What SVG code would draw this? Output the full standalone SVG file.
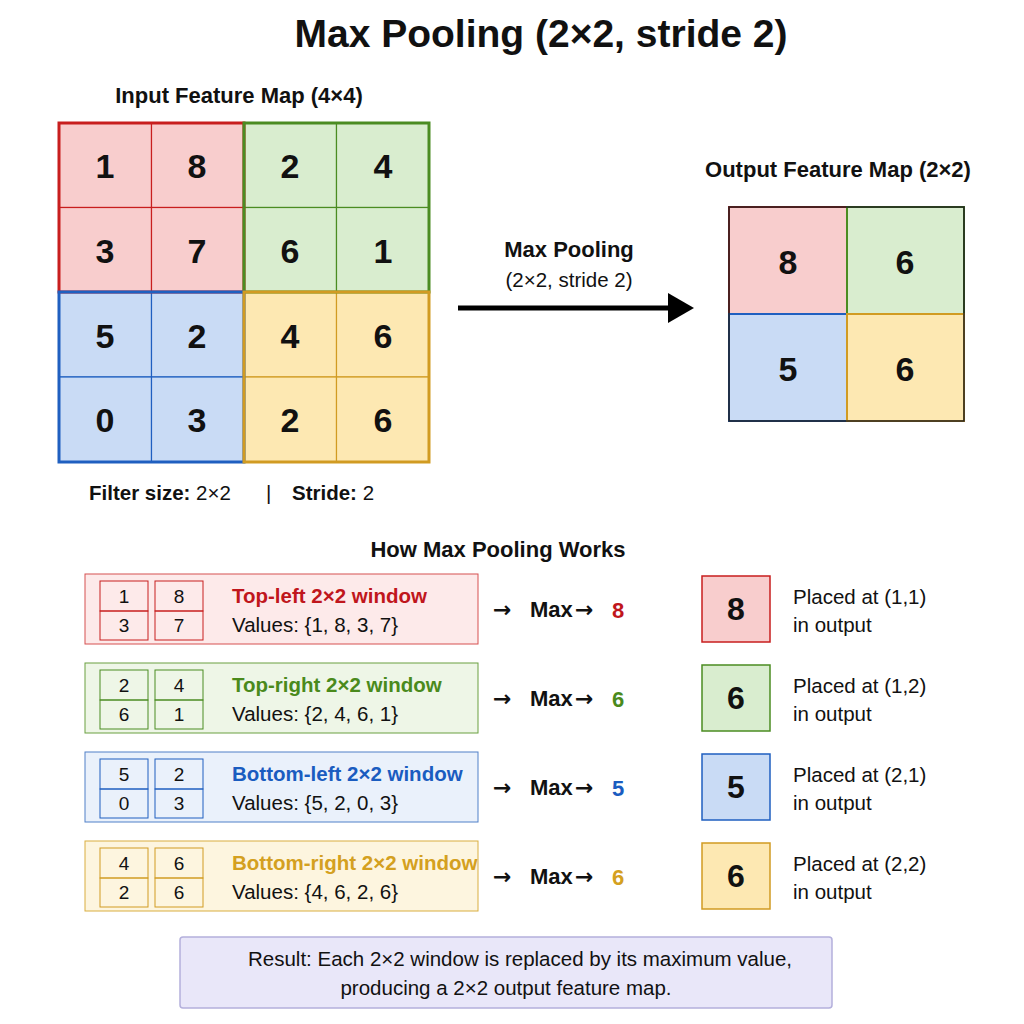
<svg xmlns="http://www.w3.org/2000/svg" width="1024" height="1024" viewBox="0 0 1024 1024">
<style>
text{font-family:"Liberation Sans",Arial,sans-serif;fill:#111}
.t{font-size:39px;font-weight:bold}
.h{font-size:22px;font-weight:bold}
.n{font-size:34px;text-anchor:middle;font-weight:bold}
.m{font-size:19px;text-anchor:middle}
.s{font-size:20.5px}
.o{font-size:32px;text-anchor:middle;font-weight:bold}
.ar{font-family:"DejaVu Sans",sans-serif;font-size:22px;font-weight:bold}
.R{fill:#f8cdcd;stroke:#c81e1e}.G{fill:#d9edcf;stroke:#4b8c22}.B{fill:#c9dbf5;stroke:#1f5fc0}.Y{fill:#fde8b2;stroke:#d19b22}
.r2{fill:#fdeaea;stroke:#d65050}.g2{fill:#eef6e7;stroke:#6aa040}.b2{fill:#eaf1fb;stroke:#5080c8}.y2{fill:#fdf5df;stroke:#d9ae40}
.mc{fill:none}
</style>
<text x="541" y="47" class="t" text-anchor="middle">Max Pooling (2×2, stride 2)</text>

<g id="input">
<text x="239" y="103" class="h" text-anchor="middle">Input Feature Map (4×4)</text>
<g stroke-width="1.2">
<rect x="59" y="123" width="92.5" height="84.5" class="R"/><rect x="151.5" y="123" width="92.5" height="84.5" class="R"/>
<rect x="59" y="207.5" width="92.5" height="84.5" class="R"/><rect x="151.5" y="207.5" width="92.5" height="84.5" class="R"/>
<rect x="244" y="123" width="92.5" height="84.5" class="G"/><rect x="336.5" y="123" width="92.5" height="84.5" class="G"/>
<rect x="244" y="207.5" width="92.5" height="84.5" class="G"/><rect x="336.5" y="207.5" width="92.5" height="84.5" class="G"/>
<rect x="59" y="292" width="92.5" height="85" class="B"/><rect x="151.5" y="292" width="92.5" height="85" class="B"/>
<rect x="59" y="377" width="92.5" height="85" class="B"/><rect x="151.5" y="377" width="92.5" height="85" class="B"/>
<rect x="244" y="292" width="92.5" height="85" class="Y"/><rect x="336.5" y="292" width="92.5" height="85" class="Y"/>
<rect x="244" y="377" width="92.5" height="85" class="Y"/><rect x="336.5" y="377" width="92.5" height="85" class="Y"/>
</g>
<g fill="none" stroke-width="3">
<rect x="59" y="123" width="185" height="169" stroke="#c81e1e"/>
<rect x="244" y="123" width="185" height="169" stroke="#4b8c22"/>
<rect x="59" y="292" width="185" height="170" stroke="#1f5fc0"/>
<rect x="244" y="292" width="185" height="170" stroke="#d19b22"/>
</g>
<text x="105" y="178" class="n">1</text><text x="197" y="178" class="n">8</text><text x="290" y="178" class="n">2</text><text x="383" y="178" class="n">4</text>
<text x="105" y="263" class="n">3</text><text x="197" y="263" class="n">7</text><text x="290" y="263" class="n">6</text><text x="383" y="263" class="n">1</text>
<text x="105" y="348" class="n">5</text><text x="197" y="348" class="n">2</text><text x="290" y="348" class="n">4</text><text x="383" y="348" class="n">6</text>
<text x="105" y="432" class="n">0</text><text x="197" y="432" class="n">3</text><text x="290" y="432" class="n">2</text><text x="383" y="432" class="n">6</text>
<text x="89" y="500" class="s"><tspan font-weight="bold">Filter size:</tspan> 2×2</text>
<text x="266" y="500" class="s">|</text>
<text x="292" y="500" class="s"><tspan font-weight="bold">Stride:</tspan> 2</text>
</g>

<g id="connectors">
<text x="569" y="257" class="h" text-anchor="middle">Max Pooling</text>
<text x="569" y="287" class="s" text-anchor="middle">(2×2, stride 2)</text>
<line x1="458" y1="308" x2="670" y2="308" stroke="#000" stroke-width="5"/>
<path d="M668,293 L694,308 L668,323 Z" fill="#000"/>
</g>

<g id="output">
<text x="838" y="177" class="h" text-anchor="middle">Output Feature Map (2×2)</text>
<g stroke-width="2">
<rect x="729" y="207" width="118" height="107" class="R"/>
<rect x="847" y="207" width="117" height="107" class="G"/>
<rect x="729" y="314" width="118" height="107" class="B"/>
<rect x="847" y="314" width="117" height="107" class="Y"/>
</g>
<rect x="729" y="207" width="235" height="214" fill="none" stroke="#222" stroke-width="1.5"/>
<text x="788" y="274" class="n">8</text><text x="905" y="274" class="n">6</text>
<text x="788" y="381" class="n">5</text><text x="905" y="381" class="n">6</text>
</g>

<text x="498" y="557" class="h" text-anchor="middle">How Max Pooling Works</text>

<g id="row1">
<rect x="85" y="574" width="393" height="70" class="r2"/>
<g class="R mc" stroke-width="1"><rect x="100" y="581" width="48" height="30"/><rect x="100" y="611" width="48" height="29"/><rect x="155" y="581" width="48" height="30"/><rect x="155" y="611" width="48" height="29"/></g>
<text x="124" y="603" class="m">1</text><text x="179" y="603" class="m">8</text><text x="124" y="632" class="m">3</text><text x="179" y="632" class="m">7</text>
<text x="232" y="603" class="s" font-weight="bold" style="fill:#c0161c">Top-left 2×2 window</text>
<text x="232" y="632" class="s">Values: {1, 8, 3, 7}</text>
<text x="493" y="617" class="ar">→</text><text x="530" y="617" class="h">Max</text><text x="575" y="617" class="ar">→</text><text x="612" y="618" class="h" font-size="25" style="fill:#c0161c">8</text>
<rect x="702" y="576" width="68" height="66" class="R" stroke-width="1.5"/>
<text x="736" y="620" class="o">8</text>
<text x="793" y="604" class="s">Placed at (1,1)</text><text x="793" y="632" class="s">in output</text>
</g>
<g id="row2">
<rect x="85" y="663" width="393" height="70" class="g2"/>
<g class="G mc" stroke-width="1"><rect x="100" y="670" width="48" height="30"/><rect x="100" y="700" width="48" height="29"/><rect x="155" y="670" width="48" height="30"/><rect x="155" y="700" width="48" height="29"/></g>
<text x="124" y="692" class="m">2</text><text x="179" y="692" class="m">4</text><text x="124" y="721" class="m">6</text><text x="179" y="721" class="m">1</text>
<text x="232" y="692" class="s" font-weight="bold" style="fill:#4a8a1c">Top-right 2×2 window</text>
<text x="232" y="721" class="s">Values: {2, 4, 6, 1}</text>
<text x="493" y="706" class="ar">→</text><text x="530" y="706" class="h">Max</text><text x="575" y="706" class="ar">→</text><text x="612" y="707" class="h" font-size="25" style="fill:#4a8a1c">6</text>
<rect x="702" y="665" width="68" height="66" class="G" stroke-width="1.5"/>
<text x="736" y="709" class="o">6</text>
<text x="793" y="693" class="s">Placed at (1,2)</text><text x="793" y="721" class="s">in output</text>
</g>
<g id="row3">
<rect x="85" y="752" width="393" height="70" class="b2"/>
<g class="B mc" stroke-width="1"><rect x="100" y="759" width="48" height="30"/><rect x="100" y="789" width="48" height="29"/><rect x="155" y="759" width="48" height="30"/><rect x="155" y="789" width="48" height="29"/></g>
<text x="124" y="781" class="m">5</text><text x="179" y="781" class="m">2</text><text x="124" y="810" class="m">0</text><text x="179" y="810" class="m">3</text>
<text x="232" y="781" class="s" font-weight="bold" style="fill:#1a5cc0">Bottom-left 2×2 window</text>
<text x="232" y="810" class="s">Values: {5, 2, 0, 3}</text>
<text x="493" y="795" class="ar">→</text><text x="530" y="795" class="h">Max</text><text x="575" y="795" class="ar">→</text><text x="612" y="796" class="h" font-size="25" style="fill:#1a5cc0">5</text>
<rect x="702" y="754" width="68" height="66" class="B" stroke-width="1.5"/>
<text x="736" y="798" class="o">5</text>
<text x="793" y="782" class="s">Placed at (2,1)</text><text x="793" y="810" class="s">in output</text>
</g>
<g id="row4">
<rect x="85" y="841" width="393" height="70" class="y2"/>
<g class="Y mc" stroke-width="1"><rect x="100" y="848" width="48" height="30"/><rect x="100" y="878" width="48" height="29"/><rect x="155" y="848" width="48" height="30"/><rect x="155" y="878" width="48" height="29"/></g>
<text x="124" y="870" class="m">4</text><text x="179" y="870" class="m">6</text><text x="124" y="899" class="m">2</text><text x="179" y="899" class="m">6</text>
<text x="232" y="870" class="s" font-weight="bold" style="fill:#d4a020">Bottom-right 2×2 window</text>
<text x="232" y="899" class="s">Values: {4, 6, 2, 6}</text>
<text x="493" y="884" class="ar">→</text><text x="530" y="884" class="h">Max</text><text x="575" y="884" class="ar">→</text><text x="612" y="885" class="h" font-size="25" style="fill:#d4a020">6</text>
<rect x="702" y="843" width="68" height="66" class="Y" stroke-width="1.5"/>
<text x="736" y="887" class="o">6</text>
<text x="793" y="871" class="s">Placed at (2,2)</text><text x="793" y="899" class="s">in output</text>
</g>

<g id="result">
<rect x="180" y="937" width="652" height="71" rx="3" fill="#e9e7f9" stroke="#b4b0dc" stroke-width="1.5"/>
<text x="520" y="966" class="s" text-anchor="middle" font-size="21">Result: Each 2×2 window is replaced by its maximum value,</text>
<text x="506" y="995" class="s" text-anchor="middle" font-size="21">producing a 2×2 output feature map.</text>
</g>
</svg>
